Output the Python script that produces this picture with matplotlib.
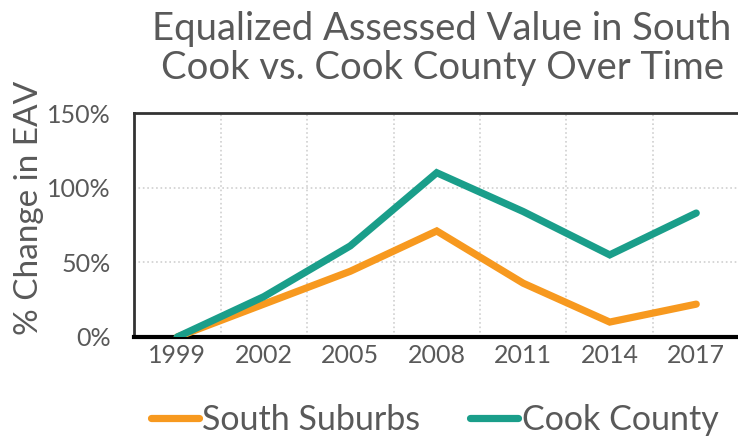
import numpy as np
import matplotlib
matplotlib.use('Agg')
import matplotlib.pyplot as plt
from matplotlib.lines import Line2D

matplotlib.rcParams['font.family'] = ['Lato', 'DejaVu Sans']

years = ['1999', '2002', '2005', '2008', '2011', '2014', '2017']
south_suburbs = [0, 22, 44, 71, 36, 10, 22]
cook_county = [0, 27, 61, 110, 84, 55, 83]

orange = '#F7991F'
teal = '#1A9E8A'
gray = '#595959'

fig = plt.figure(figsize=(7.38, 4.38), dpi=100)
ax = fig.add_axes([0.1816, 0.2306, 0.8204, 0.5114])

x = np.arange(len(years))
ax.plot(x, south_suburbs, color=orange, lw=5.2, solid_capstyle='round', solid_joinstyle='miter', zorder=3)
ax.plot(x, cook_county, color=teal, lw=5.2, solid_capstyle='round', solid_joinstyle='miter', zorder=4)

ax.set_xlim(-0.5, len(years) - 0.5)
ax.set_ylim(0, 150)
ax.set_xticks(x)
ax.set_xticklabels(years)
ax.set_xticks(np.arange(0.5, len(years) - 0.5, 1), minor=True)
ax.set_yticks([0, 50, 100, 150])
ax.set_yticklabels([str(v) + '%' for v in [0, 50, 100, 150]])
ax.tick_params(axis='both', which='both', length=0, labelsize=18, labelcolor=gray)
ax.xaxis.set_tick_params(pad=5)
ax.yaxis.set_tick_params(pad=17)

ax.grid(True, axis='y', which='major', ls=':', color='#D0D0D0', lw=1.2)
ax.grid(True, axis='x', which='minor', ls=':', color='#D0D0D0', lw=1.2)
ax.grid(False, axis='x', which='major')

ax.spines['right'].set_visible(False)
ax.spines['top'].set_color('#333333')
ax.spines['top'].set_linewidth(2)
ax.spines['left'].set_color('#333333')
ax.spines['left'].set_linewidth(2)
ax.spines['bottom'].set_color('black')
ax.spines['bottom'].set_linewidth(3)

ax.set_ylabel('% Change in EAV', fontsize=24, color=gray)
ax.yaxis.set_label_coords(-0.149, 0.576)

fig.text(0.599, 0.975, 'Equalized Assessed Value in South\nCook vs. Cook County Over Time',
         ha='center', va='top', fontsize=27.5, color=gray, linespacing=1.12)

handles = [Line2D([0], [0], color=orange, lw=5.2, solid_capstyle='round'),
           Line2D([0], [0], color=teal, lw=5.2, solid_capstyle='round')]
fig.legend(handles, ['South Suburbs', 'Cook County'], loc='center', bbox_to_anchor=(0.589, 0.042),
           ncol=2, frameon=False, fontsize=24.5, labelcolor=gray, handlelength=1.41,
           handletextpad=0.1, columnspacing=1.47)

fig.savefig('out.png', dpi=100)
